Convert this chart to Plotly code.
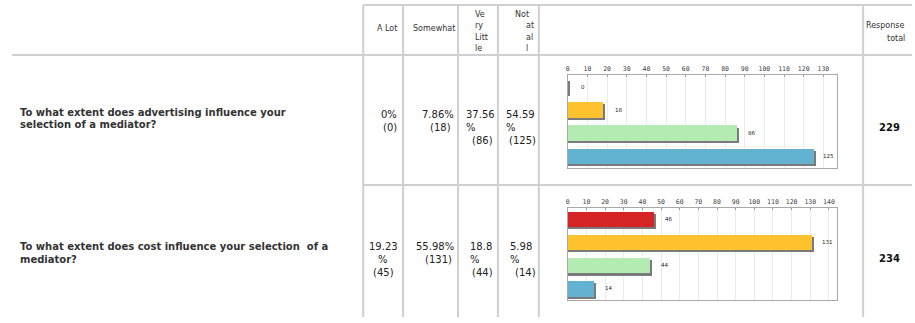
import plotly.graph_objects as go

W, H = 915, 323

# ---------------- data ----------------
questions = [
    ["To what extent does advertising influence your", "selection of a mediator?"],
    ["To what extent does cost influence your selection  of a", "mediator?"],
]
answers = ["A Lot", "Somewhat", "Very Little", "Not at all"]
pct_q1 = ["0%", "7.86%", "37.56%", "54.59%"]
cnt_q1 = [0, 18, 86, 125]
pct_q2 = ["19.23%", "55.98%", "18.8%", "5.98%"]
cnt_q2 = [45, 131, 44, 14]
bars_q1 = [0, 18, 86, 125]      # values drawn in the small bar chart
bars_q2 = [46, 131, 44, 14]
totals = [229, 234]
tick_step = 10

bar_colors = ["#D42426", "#FDC22E", "#B3EBB3", "#64B2D1"]
shadow_color = "#7A7A7A"
line_color = "#CFCFCF"
text_color = "#222222"

# ---------------- helpers ----------------
def px(x):
    return x / W

def py(y):
    return 1 - y / H

annotations = []
shapes = []

def text(t, x, y, anchor="left", size=10, bold=False, family="DejaVu Sans", color=text_color):
    annotations.append(dict(
        text=f"<b>{t}</b>" if bold else t,
        x=px(x), y=py(y), xref="paper", yref="paper",
        xanchor=anchor, yanchor="middle", showarrow=False,
        font=dict(family=family, size=size, color=color),
    ))

def hline(x0, x1, y, w=2):
    shapes.append(dict(type="line", xref="paper", yref="paper",
                       x0=px(x0), x1=px(x1), y0=py(y), y1=py(y),
                       line=dict(color=line_color, width=w)))

def vline(x, y0, y1, w=2):
    shapes.append(dict(type="line", xref="paper", yref="paper",
                       x0=px(x), x1=px(x), y0=py(y0), y1=py(y1),
                       line=dict(color=line_color, width=w)))

# ---------------- table grid ----------------
col_edges = [362, 402, 457, 497, 538, 863]
top_y, head_y, row_sep_y, bottom_y = 5, 55, 185, 317
for cx in col_edges:
    vline(cx, top_y, bottom_y)
hline(362, 912, top_y)
hline(10, 912, head_y)
hline(362, 912, row_sep_y)

# ---------------- header ----------------
hdr = 8
hdr_col = "#333333"
text("A Lot", 398, 28, "right", hdr, color=hdr_col)
text("Somewhat", 456, 28, "right", hdr, color=hdr_col)
for t, x, y, a in [("Ve", 486, 14, "right"), ("ry", 472, 25.5, "left"),
                   ("Litt", 472, 37, "left"), ("le", 472, 48.5, "left")]:
    text(t, x, y, a, hdr, color=hdr_col)
for t, x, y, a in [("Not", 512, 14, "left"), ("at", 523, 25.5, "left"),
                   ("al", 523, 37, "left"), ("l", 523, 48.5, "left")]:
    text(t, x, y, a, hdr, color=hdr_col)
text("Response", 907, 25, "right", hdr, color=hdr_col)
text("total", 907, 38, "right", hdr, color=hdr_col)

# ---------------- questions ----------------
q_y = [(112, 124), (246, 259)]
for q, (y1, y2) in zip(questions, q_y):
    text(q[0], 16, y1, "left", 10, bold=True, color="#333333")
    text(q[1], 16, y2, "left", 10, bold=True, color="#333333")

# ---------------- percentage cells ----------------
def cell_lines(p, c, split):
    if split:
        return [p[:-1], "%", f"({c})"]
    return [p, f"({c})"]

cell_layout = [
    (114, 13.5, [
        (False, [(398, "right"), (398, "right")]),
        (False, [(455, "right"), (452, "right")]),
        (True, [(463, "left"), (463, "left"), (494.5, "right")]),
        (True, [(503, "left"), (503, "left"), (537.5, "right")]),
    ]),
    (247, 12.5, [
        (True, [(382, "center"), (382, "center"), (382, "center")]),
        (False, [(455, "right"), (453, "right")]),
        (True, [(467, "left"), (467, "left"), (494.5, "right")]),
        (True, [(507, "left"), (507, "left"), (537, "right")]),
    ]),
]
for (pcts, cnts), (y0, dy, cols) in zip([(pct_q1, cnt_q1), (pct_q2, cnt_q2)], cell_layout):
    for p, c, (split, pos) in zip(pcts, cnts, cols):
        for i, (ln, (x, a)) in enumerate(zip(cell_lines(p, c, split), pos)):
            text(ln, x, y0 + i * dy, a, 10)

# ---------------- totals ----------------
for tot, y in zip(totals, [127, 258.5]):
    text(str(tot), 889, y, "center", 10, bold=True, color="#111111")

# ---------------- bar charts ----------------
fig = go.Figure()
cats = list(range(len(answers)))
charts = [
    (bars_q1, "x", "y", 137.0, (75, 168)),
    (bars_q2, "x2", "y2", 144.4, (207.5, 300)),
]
bw = 0.66
shadow_dy = 0.09
for vals, xa, ya, xmax, _ in charts:
    unit = xmax / (837 - 567)        # data units per pixel
    fig.add_trace(go.Bar(
        x=[v + 2 * unit for v in vals], y=cats, orientation="h",
        marker=dict(color=shadow_color, line=dict(width=0)),
        width=bw, offset=-bw / 2 + shadow_dy,
        xaxis=xa, yaxis=ya, hoverinfo="skip", showlegend=False,
    ))
    fig.add_trace(go.Bar(
        x=vals, y=cats, orientation="h",
        marker=dict(color=bar_colors, line=dict(width=0)),
        width=bw, offset=-bw / 2,
        xaxis=xa, yaxis=ya, hoverinfo="skip", showlegend=False,
    ))
    for v, c in zip(vals, cats):
        fig.add_annotation(
            x=v, y=c, xref=xa, yref=ya, text=str(v), showarrow=False,
            xshift=15, xanchor="center", yanchor="middle",
            font=dict(family="DejaVu Sans", size=5.5, color="#222222"),
        )

x_common = dict(
    side="top", dtick=tick_step, tick0=0, showgrid=True, gridcolor="#EBEBEB",
    gridwidth=1, zeroline=False, showline=True, linecolor="#A8A8A8", linewidth=1,
    mirror=True, ticks="inside", ticklen=2, tickcolor="#999999",
    tickfont=dict(family="DejaVu Sans Mono", size=6.5, color="#444444"),
    fixedrange=True,
)
y_common = dict(
    showticklabels=False, showgrid=False, zeroline=False, showline=True,
    linecolor="#A8A8A8", linewidth=1, mirror=True, ticks="",
    autorange=False, fixedrange=True,
)

layout_axes = {}
for i, (vals, xa, ya, xmax, (ytop, ybot)) in enumerate(charts):
    sx = "xaxis" if i == 0 else "xaxis2"
    sy = "yaxis" if i == 0 else "yaxis2"
    layout_axes[sx] = dict(x_common, range=[0, xmax], domain=[px(567), px(837)],
                           anchor=ya)
    layout_axes[sy] = dict(y_common, range=[len(cats) - 0.5, -0.5],
                           domain=[py(ybot), py(ytop)], anchor=xa)

fig.update_layout(
    width=W, height=H, margin=dict(l=0, r=0, t=0, b=0),
    paper_bgcolor="white", plot_bgcolor="white",
    barmode="overlay", bargap=0,
    shapes=shapes, **layout_axes,
)
for a in annotations:
    fig.add_annotation(a)

fig.write_html("out.html")
